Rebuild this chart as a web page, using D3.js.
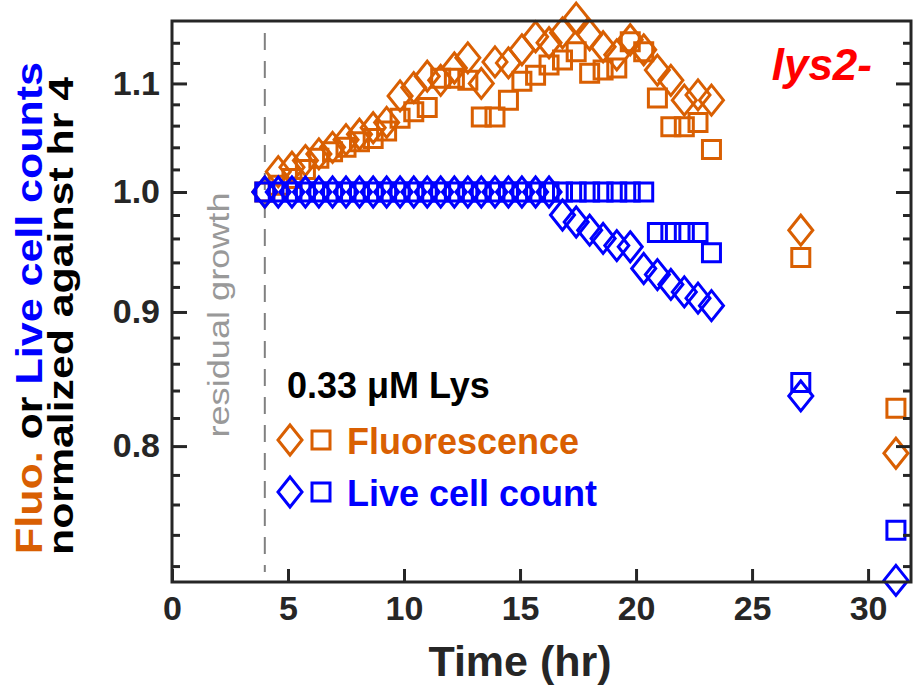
<!DOCTYPE html>
<html>
<head>
<meta charset="utf-8">
<script src="https://cdn.jsdelivr.net/npm/d3@7"></script>
<style>
  body { margin: 0; background: #fff; }
  text { font-family: "Liberation Sans", Arial, Helvetica, sans-serif; }
</style>
</head>
<body>
<script>
// Temps (h) des mesures
const times = [4.0, 4.58, 5.17, 5.75, 6.33, 6.92, 7.5, 8.08, 8.67, 9.25, 9.83,
  10.42, 11.0, 11.58, 12.17, 12.75, 13.33, 13.92, 14.5, 15.08, 15.67, 16.25,
  16.83, 17.42, 18.0, 18.58, 19.17, 19.75, 20.33, 20.92, 21.5, 22.08, 22.67,
  23.25, 27.1, 31.2];

// Fluorescence normalisée (losanges / carrés)
const fluoDiamond = [1.0, 1.018, 1.022, 1.028, 1.034, 1.04, 1.047, 1.052, 1.058,
  1.063, 1.088, 1.096, 1.107, 1.103, 1.115, 1.125, 1.1, 1.121, 1.12, 1.133,
  1.146, 1.14, 1.15, 1.165, 1.148, 1.136, 1.128, 1.143, 1.133, 1.113, 1.103,
  1.084, 1.089, 1.084, 0.967, 0.795];
const fluoSquare = [1.0, 1.006, 1.012, 1.02, 1.03, 1.036, 1.04, 1.045, 1.048,
  1.055, 1.067, 1.073, 1.077, 1.105, 1.105, 1.103, 1.068, 1.068, 1.084, 1.102,
  1.108, 1.118, 1.123, 1.131, 1.11, 1.113, 1.115, 1.141, 1.131, 1.086, 1.059,
  1.059, 1.063, 1.038, 0.944, 0.827];

// Cellules vivantes normalisées
const liveDiamond = [1, 1, 1, 1, 1, 1, 1, 1, 1, 1, 1, 1, 1, 1, 1, 1, 1, 1, 1, 1,
  1, 1, 0.98, 0.974, 0.967, 0.96, 0.954, 0.953, 0.935, 0.93, 0.922, 0.916,
  0.911, 0.905, 0.836, 0.711];
const liveSquare = [1, 1, 1, 1, 1, 1, 1, 1, 1, 1, 1, 1, 1, 1, 1, 1, 1, 1, 1, 1,
  1, 1, 1, 1, 1, 1, 1, 1, 1, 0.965, 0.965, 0.965, 0.965, 0.948, 0.846, 0.743];

const xTicks = [0, 5, 10, 15, 20, 25, 30];
const yMajor = [0.8, 0.9, 1.0, 1.1];
const yMinor = [0.72, 0.74, 0.76, 0.78, 0.82, 0.84, 0.86, 0.88, 0.92, 0.94,
  0.96, 0.98, 1.02, 1.04, 1.06, 1.08, 1.12, 1.14];

const orange = "#d95f02",
  blue = "#0000ff",
  axisColor = "#262626";

const W = 913, H = 688;
const margin = { top: 21, right: 2, bottom: 106, left: 172 };
const width = W - margin.left - margin.right,
  height = H - margin.top - margin.bottom;

var svg = d3.select("body").append("svg")
  .attr("width", W)
  .attr("height", H);

var g = svg.append("g")
  .attr("transform", "translate(" + margin.left + "," + margin.top + ")");

var x = d3.scaleLinear().domain([0, 31.85]).range([0, width]);
var y = d3.scaleLog().domain([0.71, 1.162]).range([height, 0]);

// ligne pointillée à 4 h
g.append("line")
  .attr("x1", x(4)).attr("x2", x(4))
  .attr("y1", 12).attr("y2", height - 10)
  .attr("stroke", "#808080")
  .attr("stroke-width", 2)
  .attr("stroke-dasharray", "17,11");

svg.append("text")
  .attr("transform", "translate(229,315) rotate(-90)")
  .attr("text-anchor", "middle")
  .attr("fill", "#999999")
  .attr("textLength", 245)
  .attr("lengthAdjust", "spacingAndGlyphs")
  .style("font-size", "29px")
  .text("residual growth");

// marqueurs
function diamond(sel, color) {
  sel.attr("d", "M0,-15L12,0L0,15L-12,0Z")
    .attr("fill", "none")
    .attr("stroke", color)
    .attr("stroke-width", 3);
}
function square(sel, color) {
  sel.attr("d", "M-9,-9H9V9H-9Z")
    .attr("fill", "none")
    .attr("stroke", color)
    .attr("stroke-width", 3);
}

function plotSeries(values, shape, color) {
  g.append("g").selectAll("path")
    .data(values)
    .enter()
    .append("path")
    .attr("transform", function (d, i) {
      return "translate(" + x(times[i]) + "," + y(d) + ")";
    })
    .call(shape, color);
}

plotSeries(fluoDiamond, diamond, orange);
plotSeries(fluoSquare, square, orange);
plotSeries(liveDiamond, diamond, blue);
plotSeries(liveSquare, square, blue);

// axes
g.append("g")
  .attr("transform", "translate(0," + height + ")")
  .call(d3.axisBottom(x).tickValues(xTicks).tickSize(-13).tickSizeOuter(0).tickPadding(14));

g.append("g")
  .call(d3.axisLeft(y).tickValues(yMajor).tickFormat(d3.format(".1f"))
    .tickSize(-15).tickSizeOuter(0).tickPadding(12));
g.append("g")
  .call(d3.axisLeft(y).tickValues(yMinor).tickFormat("").tickSize(-8).tickSizeOuter(0));
g.append("g")
  .attr("transform", "translate(" + width + ",0)")
  .call(d3.axisRight(y).tickValues(yMajor).tickFormat("").tickSize(-15).tickSizeOuter(0));
g.append("g")
  .attr("transform", "translate(" + width + ",0)")
  .call(d3.axisRight(y).tickValues(yMinor).tickFormat("").tickSize(-8).tickSizeOuter(0));

g.selectAll(".domain").remove();
g.selectAll(".tick line").attr("stroke", axisColor).attr("stroke-width", 3);
g.selectAll(".tick text")
  .attr("fill", axisColor)
  .style("font-size", "34px")
  .style("font-weight", "bold")
  .style("font-family", "'Liberation Sans', Arial, sans-serif");

g.append("rect")
  .attr("width", width).attr("height", height)
  .attr("fill", "none")
  .attr("stroke", axisColor)
  .attr("stroke-width", 3);

// titres des axes
svg.append("text")
  .attr("x", 520)
  .attr("y", 676)
  .attr("text-anchor", "middle")
  .attr("fill", axisColor)
  .style("font-size", "43px")
  .style("font-weight", "bold")
  .text("Time (hr)");

var yl1 = svg.append("text")
  .attr("transform", "translate(42,308) rotate(-90)")
  .attr("text-anchor", "middle")
  .attr("textLength", 492)
  .attr("lengthAdjust", "spacingAndGlyphs")
  .style("font-size", "37px")
  .style("font-weight", "bold");
yl1.append("tspan").attr("fill", orange).text("Fluo.");
yl1.append("tspan").attr("fill", "#000").text(" or ");
yl1.append("tspan").attr("fill", blue).text("Live cell counts");

svg.append("text")
  .attr("transform", "translate(73,316) rotate(-90)")
  .attr("text-anchor", "middle")
  .attr("fill", "#000")
  .attr("textLength", 478)
  .attr("lengthAdjust", "spacingAndGlyphs")
  .style("font-size", "35px")
  .style("font-weight", "bold")
  .text("normalized against hr 4");

// annotations / légende
svg.append("text")
  .attr("x", 872).attr("y", 80)
  .attr("text-anchor", "end")
  .attr("fill", "#ff0000")
  .style("font-size", "44px")
  .style("font-weight", "bold")
  .style("font-style", "italic")
  .text("lys2-");

svg.append("text")
  .attr("x", 287).attr("y", 398)
  .attr("fill", "#000")
  .style("font-size", "36px")
  .style("font-weight", "bold")
  .text("0.33 \u03bcM Lys");

const legendItems = ["Fluorescence", "Live cell count"];
const legendColors = [orange, blue];
var leg = svg.append("g").selectAll("g")
  .data(legendItems)
  .enter()
  .append("g")
  .attr("transform", function (d, i) {
    return "translate(0," + (440 + i * 52) + ")";
  });
leg.append("path")
  .attr("transform", "translate(290,0)")
  .each(function (d, i) { d3.select(this).call(diamond, legendColors[i]); });
leg.append("path")
  .attr("transform", "translate(321,0)")
  .each(function (d, i) { d3.select(this).call(square, legendColors[i]); });
leg.append("text")
  .attr("x", 347).attr("y", 14)
  .attr("fill", function (d, i) { return legendColors[i]; })
  .style("font-size", "36px")
  .style("font-weight", "bold")
  .text(function (d) { return d; });
</script>
</body>
</html>
